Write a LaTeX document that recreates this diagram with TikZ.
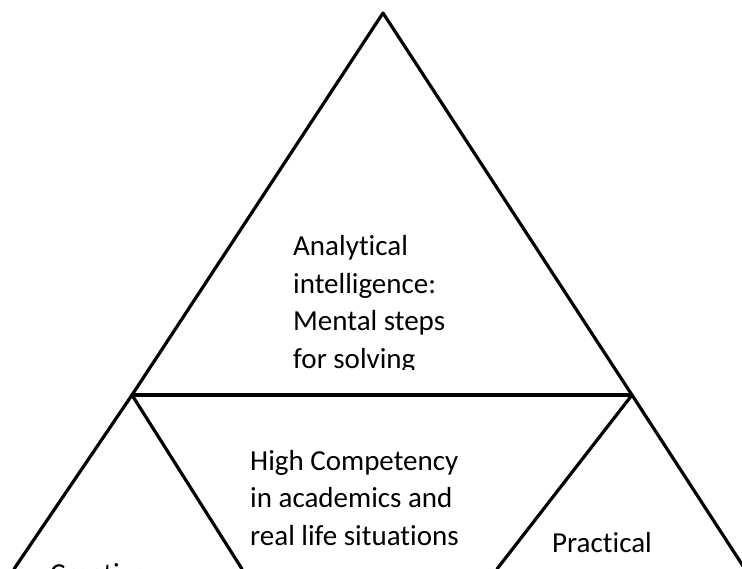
\documentclass[tikz,border=0pt]{standalone}
\usepackage{fontspec}
\setmainfont{Carlito}[Ligatures=NoCommon]
\usetikzlibrary{positioning}
\tikzset{
  edge/.style={line width=3.2pt, black, line cap=round, line join=round},
  label/.style={font=\fontsize{29}{37.5}\selectfont, align=left, anchor=base west, inner sep=0pt}
}

\begin{document}
\begin{tikzpicture}[x=1pt, y=-1pt]
% Page frame
\useasboundingbox (0,0) rectangle (742,569);
\clip (0,0) rectangle (742,569);
% Corners
\coordinate (apex) at (383,13);
\coordinate (left) at (132,395);
\coordinate (right) at (632,395);
\coordinate (leftend) at (14,569);
\coordinate (rightend) at (745,569);
\coordinate (innerleft) at (242,569);
\coordinate (innerright) at (497,569);
% Outer triangle
\draw[edge] (leftend) -- (left) -- (apex) -- (right) -- (rightend);
% Middle band
\draw[edge] (left) -- (right);
\draw[edge] (left) -- (innerleft);
\draw[edge] (right) -- (innerright);
% Top text, cut off at its box
\begin{scope}
  \clip (0,0) rectangle (742,370);
  \node[label] (analytical) at (293,368.5) {Analytical\\intelligence:\\Mental steps\\for solving};
\end{scope}
% Middle text
\node[label] (competency) at (250,545) {High Competency\\in academics and\\real life situations};
% Corner texts
\node[label] (practical) at (552,552) {Practical};
\node[label] (creative) at (50,583) {Creative};
\end{tikzpicture}
\end{document}
